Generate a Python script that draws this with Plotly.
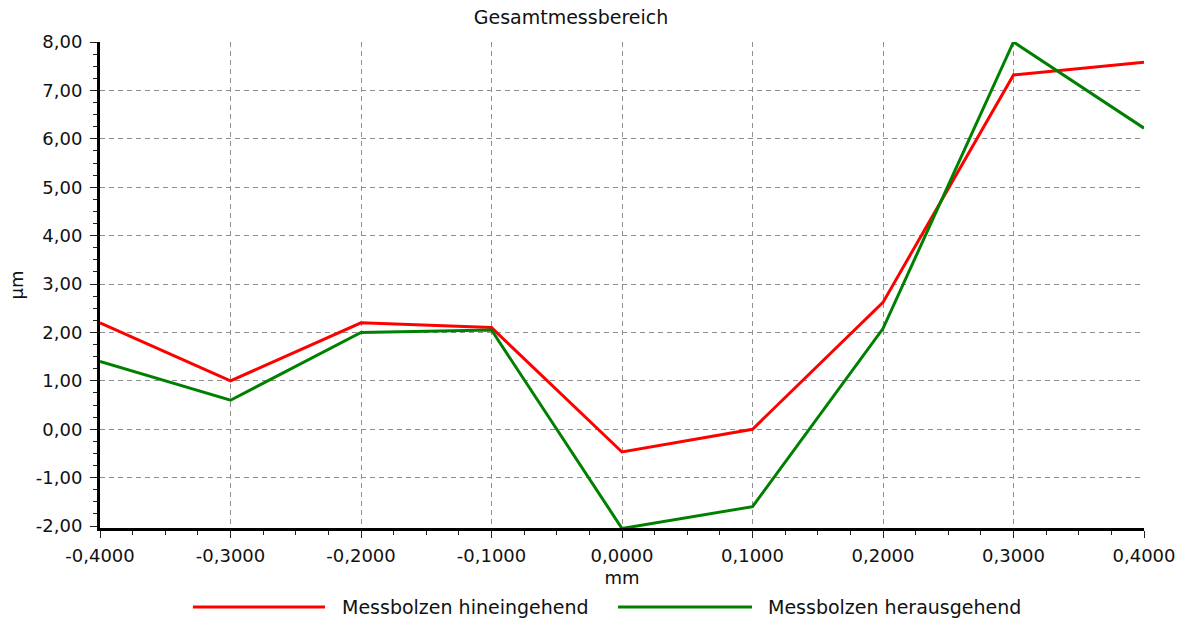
import plotly.graph_objects as go

x_mm = [-0.4, -0.3, -0.2, -0.1, 0.0, 0.1, 0.2, 0.3, 0.4]
hinein = [2.2, 1.0, 2.2, 2.1, -0.47, 0.0, 2.62, 7.32, 7.58]
heraus = [1.4, 0.6, 2.0, 2.05, -2.05, -1.6, 2.08, 8.0, 6.22]
series_names = ["Messbolzen hineingehend", "Messbolzen herausgehend"]
series_colors = ["#ff0000", "#008000"]

x_ticks = [-0.4, -0.3, -0.2, -0.1, 0.0, 0.1, 0.2, 0.3, 0.4]
x_tick_labels = ["-0,4000", "-0,3000", "-0,2000", "-0,1000", "0,0000",
                 "0,1000", "0,2000", "0,3000", "0,4000"]
y_ticks = [-2, -1, 0, 1, 2, 3, 4, 5, 6, 7, 8]
y_tick_labels = ["-2,00", "-1,00", "0,00", "1,00", "2,00", "3,00",
                 "4,00", "5,00", "6,00", "7,00", "8,00"]
x_grid = x_ticks[1:-1]
y_grid = y_ticks[1:-1]

FONT = "DejaVu Sans"
TXT = "#111111"
XR = [-0.4, 0.4]
YR = [-2.04, 8]

fig = go.Figure()
# invisible helper trace so the grid overlay axes are rendered
fig.add_trace(go.Scatter(x=x_mm, y=hinein, mode="lines", xaxis="x2", yaxis="y2",
                         line=dict(color="rgba(0,0,0,0)"), hoverinfo="skip", showlegend=False))
for name, ys, col in zip(series_names, [hinein, heraus], series_colors):
    fig.add_trace(go.Scatter(x=x_mm, y=ys, mode="lines", name=name,
                             line=dict(color=col, width=3), showlegend=False))

grid_common = dict(showgrid=True, gridcolor="#8f8f8f", griddash="5px,4px", gridwidth=1.3,
                   showticklabels=False, ticks="", showline=False, zeroline=False,
                   automargin=False, tickmode="array")

fig.update_layout(
    width=1181, height=620,
    margin=dict(l=100, r=37, t=42, b=92, autoexpand=False),
    paper_bgcolor="white", plot_bgcolor="white",
    font=dict(family=FONT, size=18, color=TXT),
    title=dict(text="Gesamtmessbereich", x=0.4835, xanchor="center", xref="container",
               y=0.972, yanchor="middle", font=dict(family=FONT, size=19, color=TXT)),
    xaxis=dict(
        range=XR, tickmode="array", tickvals=x_ticks, ticktext=x_tick_labels,
        showline=True, linecolor="black", linewidth=3,
        ticks="outside", ticklen=7, tickcolor="#222", tickwidth=1,
        showgrid=False, zeroline=False, automargin=False,
        minor=dict(tick0=-0.4, dtick=0.025, ticks="outside", ticklen=4, tickcolor="#222", showgrid=False),
        title=dict(text="mm", standoff=7, font=dict(size=18)),
        ticklabelstandoff=2,
    ),
    yaxis=dict(
        range=YR, tickmode="array", tickvals=y_ticks, ticktext=y_tick_labels,
        showline=True, linecolor="black", linewidth=3,
        ticks="outside", ticklen=7, tickcolor="#222", tickwidth=1,
        showgrid=False, zeroline=False, automargin=False,
        minor=dict(tick0=0, dtick=0.25, ticks="outside", ticklen=4, tickcolor="#222", showgrid=False),
        title=dict(text="µm", standoff=8, font=dict(size=18)),
        ticklabelstandoff=4,
    ),
    xaxis2=dict(range=XR, overlaying="x", anchor="y2", tickvals=x_grid, **grid_common),
    yaxis2=dict(range=YR, overlaying="y", anchor="x2", tickvals=y_grid, **grid_common),
)

# legend drawn as decorations below the plot
legend_items = [
    (0.089, 0.2155, 0.2299),
    (0.4962, 0.6245, 0.638),
]
ly = -0.1626
for (x0, x1, xt), name, col in zip(legend_items, series_names, series_colors):
    fig.add_shape(type="line", xref="paper", yref="paper", x0=x0, x1=x1, y0=ly, y1=ly,
                  line=dict(color=col, width=3))
    fig.add_annotation(xref="paper", yref="paper", x=xt, y=ly, text=name, showarrow=False,
                       xanchor="left", yanchor="middle", font=dict(family=FONT, size=19, color=TXT))

fig.write_html("out.html", config={"displayModeBar": False},
               post_script="document.body.style.margin='0px';")
